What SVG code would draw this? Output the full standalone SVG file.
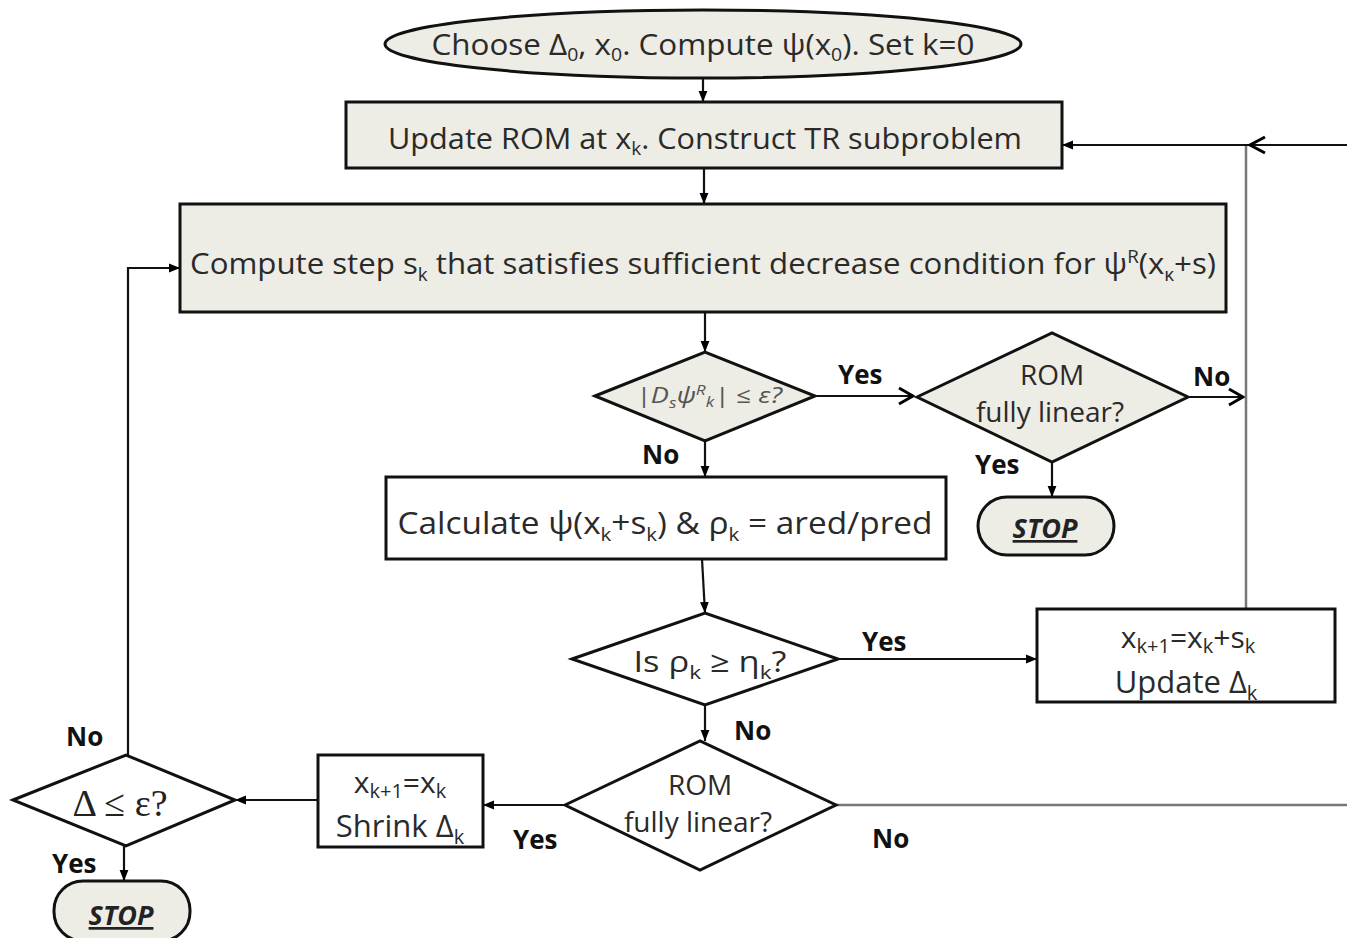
<svg xmlns="http://www.w3.org/2000/svg" width="1347" height="938" viewBox="0 0 1347 938">
<defs>
<marker id="fa" viewBox="0 0 10 10" refX="10" refY="5" markerWidth="11" markerHeight="11" markerUnits="userSpaceOnUse" orient="auto">
<path d="M0,1 L10,5 L0,9 Z" fill="#000"/>
</marker>
<marker id="oa" viewBox="0 0 20 20" refX="18" refY="10" markerWidth="20" markerHeight="20" markerUnits="userSpaceOnUse" orient="auto">
<path d="M4,2 L18,10 L4,18" fill="none" stroke="#000" stroke-width="3"/>
</marker>
</defs>
<style>
.b{fill:#edece5;stroke:#111;stroke-width:3}
.w{fill:#fff;stroke:#111;stroke-width:3}
.t{font-family:"Open Sans","Liberation Sans",sans-serif;fill:#2a2a2a;text-anchor:middle}
.l{font-family:"Open Sans","Liberation Sans",sans-serif;font-weight:bold;font-size:26px;fill:#111}
.s{font-family:"Open Sans","Liberation Sans",sans-serif;font-weight:bold;font-style:italic;text-decoration:underline;font-size:27px;fill:#222;text-anchor:middle}
.c{fill:none;stroke:#111;stroke-width:2.2}
.g{fill:none;stroke:#777;stroke-width:2.5}
</style>
<rect width="1347" height="938" fill="#fff"/>
<g id="connectors">
<line class="c" x1="703" y1="78" x2="703" y2="102" marker-end="url(#fa)"/>
<line class="c" x1="704" y1="168" x2="704" y2="204" marker-end="url(#fa)"/>
<line class="c" x1="705" y1="312" x2="705" y2="352" marker-end="url(#fa)"/>
<line class="c" x1="815" y1="396" x2="913" y2="396" marker-end="url(#oa)" stroke-width="2.6"/>
<line class="c" x1="1188" y1="397" x2="1243" y2="397" marker-end="url(#oa)"/>
<line class="g" x1="1246" y1="608" x2="1246" y2="145"/>
<line class="c" x1="1347" y1="145" x2="1062" y2="145" marker-end="url(#fa)"/>
<path d="M1265,137 L1250,145 L1265,153" fill="none" stroke="#000" stroke-width="3"/>
<line class="c" x1="1052" y1="462" x2="1052" y2="497" marker-end="url(#fa)"/>
<line class="c" x1="705" y1="441" x2="705" y2="477" marker-end="url(#fa)"/>
<line class="c" x1="702" y1="559" x2="705" y2="613" marker-end="url(#fa)"/>
<line class="c" x1="838" y1="659" x2="1037" y2="659" marker-end="url(#fa)"/>
<line class="c" x1="705" y1="705" x2="705" y2="741" marker-end="url(#fa)"/>
<line class="g" x1="836" y1="805" x2="1347" y2="805"/>
<line class="c" x1="565" y1="805" x2="483" y2="805" marker-end="url(#fa)"/>
<line class="c" x1="318" y1="800" x2="235" y2="800" marker-end="url(#fa)"/>
<polyline class="c" points="128,755 128,268 180,268" marker-end="url(#fa)"/>
<line class="c" x1="124" y1="846" x2="124" y2="881" marker-end="url(#fa)"/>
</g>
<g id="labels">
<text class="l" x="838" y="384">Yes</text>
<text class="l" x="1193" y="386">No</text>
<text class="l" x="975" y="474">Yes</text>
<text class="l" x="642" y="464">No</text>
<text class="l" x="862" y="651">Yes</text>
<text class="l" x="734" y="740">No</text>
<text class="l" x="872" y="848">No</text>
<text class="l" x="513" y="849">Yes</text>
<text class="l" x="66" y="746">No</text>
<text class="l" x="52" y="873">Yes</text>
</g>
<g id="start">
<ellipse class="b" cx="703" cy="44" rx="318" ry="34"/>
<text class="t" x="703" y="55" font-size="29" textLength="543" lengthAdjust="spacingAndGlyphs">Choose Δ<tspan font-size="18" dy="6">0</tspan><tspan dy="-6">, x</tspan><tspan font-size="18" dy="6">0</tspan><tspan dy="-6">. Compute ψ(x</tspan><tspan font-size="18" dy="6">0</tspan><tspan dy="-6">). Set k=0</tspan></text>
</g>
<g id="update-rom">
<rect class="b" x="346" y="102" width="716" height="66"/>
<text class="t" x="705" y="149" font-size="29" textLength="634" lengthAdjust="spacingAndGlyphs">Update ROM at x<tspan font-size="18" dy="6">k</tspan><tspan dy="-6">. Construct TR subproblem</tspan></text>
</g>
<g id="compute-step">
<rect class="b" x="180" y="204" width="1046" height="108"/>
<text class="t" x="703" y="274" font-size="30" textLength="1026" lengthAdjust="spacingAndGlyphs">Compute step s<tspan font-size="18" dy="7">k</tspan><tspan dy="-7"> that satisfies sufficient decrease condition for ψ</tspan><tspan font-size="18" dy="-11">R</tspan><tspan dy="11">(x</tspan><tspan font-size="18" dy="7">κ</tspan><tspan dy="-7">+s)</tspan></text>
</g>
<g id="check-grad">
<polygon class="b" points="595,396 705,352 815,396 705,441"/>
<text class="t" x="709" y="403" font-size="22" font-style="italic" style="fill:#555" textLength="146" lengthAdjust="spacingAndGlyphs">|D<tspan font-size="14" dy="5">s</tspan><tspan dy="-5">ψ</tspan><tspan font-size="14" dy="-8">R</tspan><tspan font-size="14" dy="12">k</tspan><tspan dy="-4">| ≤ ε?</tspan></text>
</g>
<g id="rom-linear-1">
<polygon class="b" points="917,397 1052,333 1188,397 1052,462"/>
<text class="t" x="1052" y="385" font-size="28">ROM</text>
<text class="t" x="1050" y="422" font-size="28">fully linear?</text>
</g>
<g id="stop-2">
<rect class="b" x="978" y="497" width="136" height="58" rx="29"/>
<text class="s" x="1045" y="538">STOP</text>
</g>
<g id="calc-rho">
<rect class="w" x="386" y="477" width="560" height="82"/>
<text class="t" x="665" y="534" font-size="31" textLength="535" lengthAdjust="spacingAndGlyphs">Calculate ψ(x<tspan font-size="19" dy="7">k</tspan><tspan dy="-7">+s</tspan><tspan font-size="19" dy="7">k</tspan><tspan dy="-7">) &amp; ρ</tspan><tspan font-size="19" dy="7">k</tspan><tspan dy="-7"> = ared/pred</tspan></text>
</g>
<g id="check-rho">
<polygon class="w" points="572,659 705,613 838,659 705,705"/>
<text class="t" x="710" y="672" font-size="29" textLength="153" lengthAdjust="spacingAndGlyphs">Is ρ<tspan font-size="19" dy="7">k</tspan><tspan dy="-7"> ≥ η</tspan><tspan font-size="19" dy="7">k</tspan><tspan dy="-7">?</tspan></text>
</g>
<g id="accept-step">
<rect class="w" x="1037" y="609" width="298" height="93"/>
<text class="t" x="1188" y="648" font-size="30">x<tspan font-size="20" dy="5">k+1</tspan><tspan dy="-5">=x</tspan><tspan font-size="20" dy="5">k</tspan><tspan dy="-5">+s</tspan><tspan font-size="20" dy="5">k</tspan></text>
<text class="t" x="1186" y="693" font-size="31">Update Δ<tspan font-size="20" dy="7">k</tspan></text>
</g>
<g id="rom-linear-2">
<polygon class="w" points="565,805 700,741 836,805 700,870"/>
<text class="t" x="700" y="795" font-size="28">ROM</text>
<text class="t" x="698" y="832" font-size="28">fully linear?</text>
</g>
<g id="shrink">
<rect class="w" x="318" y="755" width="165" height="92"/>
<text class="t" x="400" y="793" font-size="30">x<tspan font-size="20" dy="5">k+1</tspan><tspan dy="-5">=x</tspan><tspan font-size="20" dy="5">k</tspan></text>
<text class="t" x="400" y="837" font-size="31">Shrink Δ<tspan font-size="20" dy="7">k</tspan></text>
</g>
<g id="check-delta">
<polygon class="w" points="13,800 126,755 235,800 126,846"/>
<text x="120" y="816" font-family="'Liberation Serif',serif" font-size="38" fill="#222" text-anchor="middle">Δ ≤ ε?</text>
</g>
<g id="stop-1">
<rect class="b" x="54" y="881" width="136" height="60" rx="29"/>
<text class="s" x="121" y="925">STOP</text>
</g>
</svg>
